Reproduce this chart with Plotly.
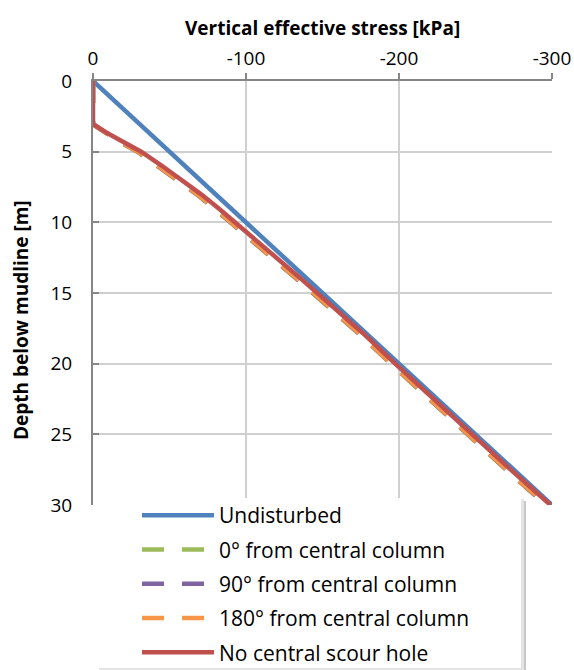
import plotly.graph_objects as go

# ---- data ----
series_names = [
    "Undisturbed",
    "0° from central column",
    "90° from central column",
    "180° from central column",
    "No central scour hole",
]

depth_undisturbed = [0, 5, 10, 15, 20, 25, 30]
stress_undisturbed = [0, -50, -100, -150, -200, -250, -300]

depth_scour = [0, 3.05, 3.15, 3.3, 3.6, 4, 4.5, 5, 6, 7, 8, 9, 10, 12, 14, 16, 18, 20, 22.5, 25, 27.5, 30]
stress_0deg = [0, 0, -1.0, -3.0, -7.0, -13.0, -20.5, -29.0, -42.0, -55.0, -67.5, -79.0, -90.0, -111.0,
               -133.0, -154.0, -175.0, -194.5, -219.5, -245.0, -270.0, -296.0]
stress_90deg = [0, 0, -1.1, -3.1, -7.2, -13.2, -20.8, -29.2, -42.2, -55.2, -67.8, -79.2, -90.2, -111.2,
                -133.2, -154.2, -175.2, -194.8, -219.8, -245.2, -270.2, -296.2]
stress_180deg = [0, 0, -1.2, -3.2, -7.4, -13.5, -21.0, -29.5, -42.5, -55.5, -68.0, -79.5, -90.5, -111.5,
                 -133.5, -154.5, -175.5, -195.0, -220.0, -245.5, -270.5, -296.5]
stress_no_central = [0, 0, -1.5, -3.5, -8.0, -14.5, -22.5, -31.5, -45.0, -58.0, -70.5, -82.0, -93.0, -114.0,
                     -136.0, -157.0, -178.0, -197.5, -222.5, -248.0, -273.0, -299.0]

x_ticks = [0, -100, -200, -300]
x_tick_labels = ["0", "-100", "-200", "-300"]
y_ticks = [0, 5, 10, 15, 20, 25, 30]

# ---- styling ----
W, H = 574, 670
L, R, T, B = 93, 22, 81, 165
PW, PH = W - L - R, H - T - B
FONT = "Open Sans"


def px_x(px):
    return (px - L) / PW


def px_y(py):
    return (H - B - py) / PH


colors = ["#4F81BD", "#9BBB59", "#8064A2", "#F79646", "#C0504D"]
dash_style = "22px,18px"

fig = go.Figure()
series = [
    (depth_undisturbed, stress_undisturbed, "solid"),
    (depth_scour, stress_0deg, dash_style),
    (depth_scour, stress_90deg, dash_style),
    (depth_scour, stress_180deg, dash_style),
    (depth_scour, stress_no_central, "solid"),
]
for i, (d, s, dash) in enumerate(series):
    fig.add_trace(go.Scatter(
        x=s, y=d, mode="lines", name=series_names[i],
        legendgroup=f"g{i}",
        line=dict(color=colors[i], width=4.5, dash=dash),
    ))

# legend background with shadow
fig.add_shape(type="rect", xref="paper", yref="paper",
              x0=px_x(101), x1=px_x(526), y0=px_y(673), y1=px_y(501),
              fillcolor="#c8c8c8", line=dict(width=0), layer="above")
fig.add_shape(type="rect", xref="paper", yref="paper",
              x0=px_x(99), x1=px_x(524), y0=px_y(671), y1=px_y(499),
              fillcolor="#e4e4e4", line=dict(width=0), layer="above")
fig.add_shape(type="rect", xref="paper", yref="paper",
              x0=px_x(98), x1=px_x(521), y0=px_y(668), y1=px_y(498),
              fillcolor="white", line=dict(width=0), layer="above")

fig.update_layout(
    width=W, height=H,
    margin=dict(l=L, r=R, t=T, b=B, pad=0, autoexpand=False),
    paper_bgcolor="white", plot_bgcolor="white",
    font=dict(family=FONT, size=19, color="#000000"),
    showlegend=True,
    legend=dict(
        x=px_x(137), y=px_y(495), xanchor="left", yanchor="top",
        bgcolor="rgba(0,0,0,0)", borderwidth=0,
        font=dict(family=FONT, size=21, color="#000000"),
        itemwidth=72, tracegroupgap=4, traceorder="grouped",
    ),
    xaxis=dict(
        side="top", range=[0, -300], tickvals=x_ticks, ticktext=x_tick_labels,
        showgrid=True, gridcolor="#d0d0d0", gridwidth=1.5,
        showline=True, linecolor="#868686", linewidth=2,
        ticks="outside", ticklen=6, tickcolor="#868686", tickwidth=2,
        zeroline=False, ticklabelstandoff=0, automargin=False,
        layer="below traces",
        tickfont=dict(family=FONT, size=19),
    ),
    yaxis=dict(
        range=[30, 0], tickvals=y_ticks,
        showgrid=True, gridcolor="#d0d0d0", gridwidth=1.5,
        showline=True, linecolor="#868686", linewidth=2,
        ticks="inside", ticklen=6, tickcolor="#868686", tickwidth=2,
        zeroline=False, ticklabelstandoff=15, automargin=False,
        layer="below traces",
        tickfont=dict(family=FONT, size=19),
    ),
    annotations=[
        dict(text="<b>Vertical effective stress [kPa]</b>", xref="paper", yref="paper",
             x=0.5, y=px_y(28), xanchor="center", yanchor="middle", showarrow=False,
             font=dict(family=FONT, size=19, color="#000000")),
        dict(text="<b>Depth below mudline [m]</b>", xref="paper", yref="paper",
             x=px_x(21), y=px_y(320), xanchor="center", yanchor="middle", showarrow=False,
             textangle=-90, font=dict(family=FONT, size=19, color="#000000")),
    ],
)

fig.write_html("out.html")
